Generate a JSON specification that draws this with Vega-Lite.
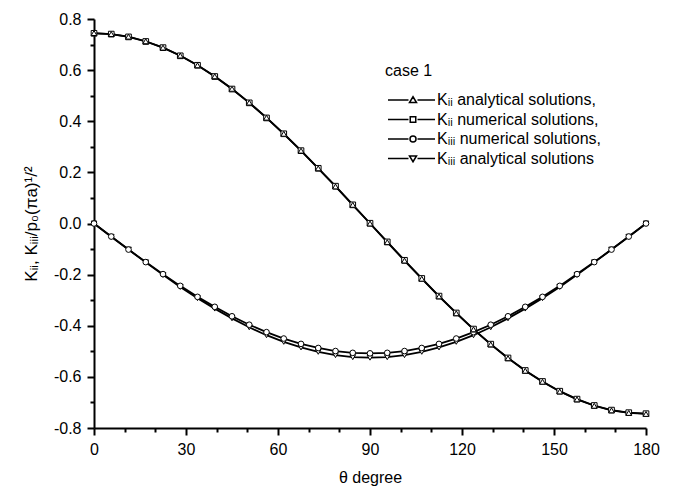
{
  "$schema": "https://vega.github.io/schema/vega-lite/v6.json",
  "autosize": "none",
  "width": 552,
  "height": 409,
  "padding": {"left": 94, "top": 19, "right": 29, "bottom": 63},
  "background": "white",
  "config": {
    "view": {"stroke": null},
    "font": "Liberation Sans",
    "axis": {"grid": false, "domainColor": "black", "domainWidth": 2, "tickColor": "black", "tickWidth": 2, "labelColor": "black", "labelFontSize": 16, "labelFont": "Liberation Sans", "titleFont": "Liberation Sans", "titleFontSize": 16, "titleFontWeight": "normal", "titleColor": "black"}
  },
  "data": {
    "values": [
      {"t": 0, "a": 0.745, "b": 0.744, "c": 0, "d": 0},
      {"t": 5.625, "a": 0.741, "b": 0.741, "c": -0.051, "d": -0.052},
      {"t": 11.25, "a": 0.731, "b": 0.730, "c": -0.102, "d": -0.102},
      {"t": 16.875, "a": 0.713, "b": 0.712, "c": -0.151, "d": -0.152},
      {"t": 22.5, "a": 0.688, "b": 0.688, "c": -0.198, "d": -0.201},
      {"t": 28.125, "a": 0.657, "b": 0.656, "c": -0.244, "d": -0.248},
      {"t": 33.75, "a": 0.619, "b": 0.619, "c": -0.287, "d": -0.292},
      {"t": 39.375, "a": 0.576, "b": 0.575, "c": -0.326, "d": -0.333},
      {"t": 45, "a": 0.527, "b": 0.526, "c": -0.363, "d": -0.371},
      {"t": 50.625, "a": 0.473, "b": 0.472, "c": -0.396, "d": -0.406},
      {"t": 56.25, "a": 0.414, "b": 0.413, "c": -0.425, "d": -0.437},
      {"t": 61.875, "a": 0.351, "b": 0.351, "c": -0.450, "d": -0.463},
      {"t": 67.5, "a": 0.285, "b": 0.285, "c": -0.471, "d": -0.485},
      {"t": 73.125, "a": 0.216, "b": 0.216, "c": -0.487, "d": -0.502},
      {"t": 78.75, "a": 0.145, "b": 0.146, "c": -0.499, "d": -0.515},
      {"t": 84.375, "a": 0.073, "b": 0.073, "c": -0.506, "d": -0.523},
      {"t": 90, "a": 0.000, "b": 0.001, "c": -0.508, "d": -0.525},
      {"t": 95.625, "a": -0.073, "b": -0.072, "c": -0.506, "d": -0.523},
      {"t": 101.25, "a": -0.145, "b": -0.144, "c": -0.499, "d": -0.515},
      {"t": 106.875, "a": -0.216, "b": -0.215, "c": -0.487, "d": -0.502},
      {"t": 112.5, "a": -0.285, "b": -0.284, "c": -0.471, "d": -0.485},
      {"t": 118.125, "a": -0.351, "b": -0.350, "c": -0.450, "d": -0.463},
      {"t": 123.75, "a": -0.414, "b": -0.413, "c": -0.425, "d": -0.437},
      {"t": 129.375, "a": -0.473, "b": -0.472, "c": -0.396, "d": -0.406},
      {"t": 135, "a": -0.527, "b": -0.526, "c": -0.363, "d": -0.371},
      {"t": 140.625, "a": -0.576, "b": -0.575, "c": -0.326, "d": -0.333},
      {"t": 146.25, "a": -0.619, "b": -0.618, "c": -0.287, "d": -0.292},
      {"t": 151.875, "a": -0.657, "b": -0.656, "c": -0.244, "d": -0.248},
      {"t": 157.5, "a": -0.688, "b": -0.687, "c": -0.198, "d": -0.201},
      {"t": 163.125, "a": -0.713, "b": -0.712, "c": -0.151, "d": -0.152},
      {"t": 168.75, "a": -0.731, "b": -0.730, "c": -0.102, "d": -0.102},
      {"t": 174.375, "a": -0.741, "b": -0.740, "c": -0.051, "d": -0.052},
      {"t": 180, "a": -0.745, "b": -0.744, "c": 0, "d": 0}
    ]
  },
  "transform": [{"fold": ["a", "b", "c", "d"], "as": ["series", "value"]}],
  "encoding": {
    "x": {
      "field": "t", "type": "quantitative",
      "scale": {"domain": [0, 180], "nice": false, "zero": false},
      "axis": {
        "title": "θ degree",
        "values": [0, 10, 20, 30, 40, 50, 60, 70, 80, 90, 100, 110, 120, 130, 140, 150, 160, 170, 180],
        "labelExpr": "datum.value % 30 == 0 ? datum.label : ''",
        "tickSize": {"condition": {"test": "datum.value % 30 == 0", "value": 7}, "value": 4},
        "labelPadding": 6,
        "titlePadding": 12,
        "labelFlush": false
      }
    },
    "y": {
      "field": "value", "type": "quantitative",
      "scale": {"domain": [-0.8, 0.8], "nice": false, "zero": false},
      "axis": {
        "title": "Kᵢᵢ, Kᵢᵢᵢ/p₀(πa)¹/²",
        "titleFontSize": 17,
        "values": [-0.8, -0.7, -0.6, -0.5, -0.4, -0.3, -0.2, -0.1, 0, 0.1, 0.2, 0.3, 0.4, 0.5, 0.6, 0.7, 0.8],
        "labelExpr": "abs(round(datum.value*10)) % 2 == 0 ? replace(format(datum.value, '.1f'), '\u2212', '-') : ''",
        "tickSize": {"condition": {"test": "abs(round(datum.value*10)) % 2 == 0", "value": 7}, "value": 4},
        "labelPadding": 6,
        "titlePadding": 13,
        "labelFlush": false
      }
    }
  },
  "layer": [
    {
      "mark": {"type": "line", "color": "black", "strokeWidth": 1.8},
      "encoding": {"detail": {"field": "series"}}
    },
    {
      "mark": {"type": "point", "filled": true, "fill": "white", "stroke": "black", "strokeWidth": 1, "size": 32, "opacity": 1},
      "encoding": {
        "order": {"field": "series", "sort": "descending"},
        "shape": {
          "field": "series", "type": "nominal",
          "scale": {"domain": ["a", "b", "c", "d"], "range": ["triangle-up", "square", "circle", "triangle-down"]},
          "legend": null
        }
      }
    },
    {
      "transform": [{"filter": "datum.t < 0"}],
      "mark": {"type": "point", "filled": false, "color": "black", "strokeWidth": 1.5, "size": 100, "opacity": 1},
      "encoding": {
        "shape": {
          "field": "series", "type": "nominal",
          "scale": {"domain": ["a", "b", "c", "d"], "range": ["M-5,0H-0.9M0.9,0H4.4M0,-0.65L0.7,0.5L-0.7,0.5Z", "M-5,0H-0.9M0.9,0H4.4M-0.55,-0.55H0.55V0.55H-0.55Z", "M-5,0H-0.9M0.9,0H4.4M0.6,0A0.6,0.6 0 1 1 -0.6,0A0.6,0.6 0 1 1 0.6,0Z", "M-5,0H-0.9M0.9,0H4.4M0,0.65L0.7,-0.5L-0.7,-0.5Z"]},
          "legend": {
            "orient": "none", "legendX": 291, "legendY": 44,
            "title": "case 1",
            "titleFontSize": 16, "titleFontWeight": "normal", "titleColor": "black", "titleFont": "Liberation Sans",
            "labelFontSize": 16, "labelColor": "black", "labelFont": "Liberation Sans", "labelLimit": 0,
            "symbolSize": 100, "symbolOffset": 20, "labelOffset": 16, "rowPadding": 3.5, "titlePadding": 13,
            "symbolStrokeColor": "black", "symbolStrokeWidth": 1.5, "symbolOpacity": 1,
            "labelExpr": "datum.value == 'a' ? 'Kᵢᵢ analytical solutions,' : datum.value == 'b' ? 'Kᵢᵢ numerical solutions,' : datum.value == 'c' ? 'Kᵢᵢᵢ numerical solutions,' : 'Kᵢᵢᵢ analytical solutions'"
          }
        }
      }
    }
  ],
  "resolve": {"scale": {"shape": "independent"}}
}
